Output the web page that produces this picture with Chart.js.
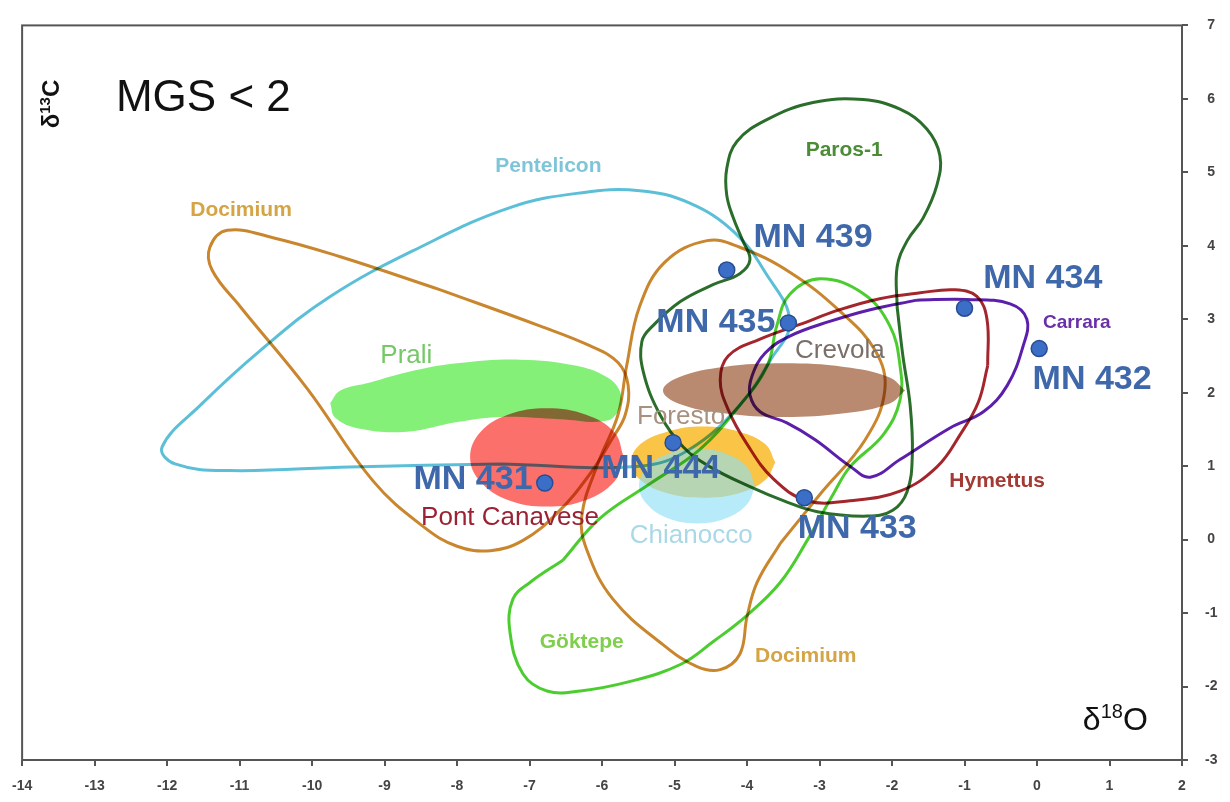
<!DOCTYPE html>
<html lang="en">
<head>
<meta charset="UTF-8" />
<title>MGS &lt; 2 – δ13C vs δ18O</title>
<script src="https://cdn.jsdelivr.net/npm/chart.js"></script>
<style>
  body { margin: 0; background: #fff; }
  .wrap { width: 1230px; height: 802px; position: relative; }
</style>
</head>
<body>
<div class="wrap"><canvas id="isoChart"></canvas></div>
<script>
// outlines of the marble fields, pairs of [δ18O, δ13C]
// (each ring starts on a straight stretch so the closing joint stays hidden)
const pentelicon = [[-7.41,1.03],[-9.48,0.99],[-11.13,0.94],[-11.89,1.03],[-12.07,1.26],[-11.54,1.83],[-10.72,2.57],[-9.75,3.31],[-8.51,3.98],[-7.27,4.52],[-6.30,4.72],[-5.48,4.75],[-4.79,4.58],[-4.17,4.18],[-3.75,3.64],[-3.41,2.97],[-3.68,2.44],[-4.10,1.83],[-4.79,1.23],[-5.48,1.00]];
const docimiumA = [[-8.23,3.40],[-6.86,2.91],[-6.17,2.64],[-5.78,2.41],[-5.64,2.10],[-5.68,1.70],[-5.85,1.39],[-6.17,0.89],[-6.62,0.36],[-7.09,-0.01],[-7.54,-0.15],[-8.00,-0.09],[-8.47,0.18],[-9.16,0.80],[-10.07,2.06],[-10.99,3.17],[-11.38,3.67],[-11.41,3.98],[-11.17,4.21],[-10.54,4.11],[-9.61,3.85]];
const docimiumB = [[-3.54,-0.05],[-3.86,-0.58],[-4.00,-1.05],[-4.10,-1.56],[-4.37,-1.77],[-4.69,-1.73],[-5.16,-1.43],[-5.85,-0.81],[-6.21,-0.14],[-6.28,0.32],[-6.06,1.03],[-5.78,1.70],[-5.66,2.37],[-5.48,3.18],[-5.13,3.78],[-4.55,4.07],[-4.10,3.98],[-3.41,3.64],[-2.72,3.11],[-2.23,2.57],[-2.10,2.03],[-2.37,1.36],[-2.99,0.62]];
const paros = [[-1.93,3.17],[-1.85,2.50],[-1.75,1.83],[-1.72,1.16],[-1.79,0.66],[-1.99,0.40],[-2.34,0.32],[-3.03,0.38],[-3.50,0.53],[-3.96,0.72],[-4.51,0.99],[-4.88,1.26],[-5.20,1.70],[-5.43,2.28],[-5.45,2.70],[-5.30,2.91],[-4.92,3.24],[-4.47,3.47],[-4.10,3.62],[-3.96,3.81],[-4.06,4.07],[-4.19,4.38],[-4.28,4.69],[-4.28,5.05],[-4.14,5.42],[-3.72,5.72],[-3.09,5.95],[-2.40,5.99],[-1.89,5.86],[-1.52,5.59],[-1.34,5.23],[-1.38,4.83],[-1.57,4.38],[-1.79,4.07],[-1.93,3.71]];
const goktepe = [[-6.54,-0.28],[-6.03,0.29],[-5.34,0.76],[-4.65,1.23],[-4.10,1.83],[-3.72,2.37],[-3.59,2.91],[-3.41,3.34],[-2.99,3.55],[-2.40,3.35],[-2.03,2.91],[-1.89,2.37],[-1.89,1.90],[-2.12,1.43],[-2.58,0.99],[-2.81,0.62],[-3.17,-0.01],[-3.54,-0.58],[-4.00,-1.03],[-4.47,-1.39],[-4.92,-1.70],[-5.61,-1.93],[-6.30,-2.06],[-6.76,-2.06],[-7.09,-1.83],[-7.27,-1.26],[-7.23,-0.81],[-6.99,-0.58]];
const hymettus = [[-0.68,2.37],[-0.81,1.87],[-1.06,1.43],[-1.38,0.99],[-1.89,0.66],[-2.58,0.53],[-3.17,0.53],[-3.64,0.83],[-4.00,1.30],[-4.26,1.77],[-4.37,2.17],[-4.26,2.50],[-3.82,2.73],[-3.27,2.93],[-2.72,3.13],[-2.17,3.28],[-1.61,3.36],[-1.13,3.40],[-0.83,3.31],[-0.69,3.00]];
const carrara = [[-1.66,3.26],[-0.97,3.27],[-0.37,3.21],[-0.14,3.00],[-0.19,2.64],[-0.41,2.10],[-0.74,1.74],[-1.20,1.52],[-1.89,1.09],[-2.30,0.85],[-2.58,1.00],[-3.06,1.36],[-3.45,1.59],[-3.82,1.74],[-3.96,1.97],[-3.93,2.23],[-3.75,2.54],[-3.41,2.77],[-2.86,2.97],[-2.30,3.13]];

// filled fields
const prali = [[-9.75,1.86],[-9.61,2.03],[-9.20,2.14],[-8.69,2.28],[-8.00,2.40],[-7.13,2.45],[-6.37,2.37],[-5.93,2.21],[-5.75,2.01],[-5.75,1.81],[-5.93,1.62],[-6.58,1.64],[-7.41,1.67],[-8.00,1.60],[-8.69,1.47],[-9.34,1.51],[-9.68,1.66]];
const pontCanavese = [[-5.70,1.12],[-5.83,1.46],[-6.22,1.70],[-6.76,1.79],[-7.30,1.70],[-7.68,1.46],[-7.82,1.12],[-7.68,0.79],[-7.30,0.54],[-6.76,0.45],[-6.22,0.54],[-5.83,0.79]];
const crevola = [[-1.82,2.03],[-2.04,2.21],[-2.66,2.35],[-3.49,2.40],[-4.32,2.35],[-4.94,2.21],[-5.16,2.03],[-4.94,1.85],[-4.32,1.72],[-3.49,1.67],[-2.66,1.72],[-2.04,1.85]];
const foresto = [[-3.61,1.05],[-3.75,1.30],[-4.11,1.47],[-4.61,1.54],[-5.10,1.47],[-5.47,1.30],[-5.60,1.05],[-5.47,0.81],[-5.10,0.63],[-4.61,0.57],[-4.11,0.63],[-3.75,0.81]];
const chianocco = [[-3.89,0.73],[-4.00,0.99],[-4.29,1.17],[-4.69,1.24],[-5.09,1.17],[-5.38,0.99],[-5.49,0.73],[-5.38,0.48],[-5.09,0.29],[-4.69,0.22],[-4.29,0.29],[-4.00,0.48]];

// samples
const sampleNames = ['MN 439', 'MN 435', 'MN 434', 'MN 432', 'MN 444', 'MN 431', 'MN 433'];
const sampleO = [-4.28, -3.43, -1.00, 0.03, -5.02, -6.79, -3.21];
const sampleC = [3.67, 2.95, 3.15, 2.60, 1.32, 0.77, 0.57];
// where the sample names sit
const sampleTagO = [-3.09, -4.43, 0.08, 0.76, -5.19, -7.78, -2.48];
const sampleTagC = [4.11, 2.95, 3.55, 2.18, 0.96, 0.81, 0.15];

const xTicks = [-14, -13, -12, -11, -10, -9, -8, -7, -6, -5, -4, -3, -2, -1, 0, 1, 2];
const yTicks = [-3, -2, -1, 0, 1, 2, 3, 4, 5, 6, 7];

// field names: text, δ18O, δ13C, colour, font
const fieldNames = [
  ['Pentelicon', -6.74, 5.08, '#7fc5da', 'bold 21px'],
  ['Docimium', -10.98, 4.49, '#d5a444', 'bold 21px'],
  ['Paros-1', -2.66, 5.30, '#4b8c37', 'bold 21px'],
  ['Prali', -8.70, 2.50, '#74c866', '26px'],
  ['Crevola', -2.72, 2.57, '#7a6f68', '26px'],
  ['Foresto', -4.91, 1.67, '#a8917f', '26px'],
  ['Chianocco', -4.77, 0.05, '#a9d8e6', '26px'],
  ['Pont Canavese', -7.27, 0.29, '#9a2234', '26px'],
  ['Göktepe', -6.28, -1.39, '#80cf4c', 'bold 21px'],
  ['Docimium', -3.19, -1.59, '#d5a444', 'bold 21px'],
  ['Hymettus', -0.55, 0.79, '#a33a34', 'bold 21px'],
  ['Carrara', 0.55, 2.95, '#6b30a8', 'bold 19px']
];

const FAMILY = '"Liberation Sans", Arial, sans-serif';
const closed = a => a.concat([a[0]]).map(p => ({ x: p[0], y: p[1] }));

function outline(label, arr, color) {
  return {
    label, data: closed(arr), showLine: true, fill: false, blend: 'multiply',
    borderColor: color, borderWidth: 3, pointRadius: 0, tension: 0.4, order: 1
  };
}
function area(label, arr, color, blend, order) {
  return {
    label, data: closed(arr), showLine: true, fill: 'shape', blend,
    backgroundColor: color, borderColor: 'rgba(0,0,0,0)', borderWidth: 1, pointRadius: 0, tension: 0.4, order
  };
}

function isoLabel(ctx, x, y, iso, el, size, weight, angle) {
  ctx.save();
  ctx.translate(x, y);
  ctx.rotate(angle);
  const big = `${weight} ${size}px ${FAMILY}`;
  const small = `${weight} ${Math.round(size * 0.62)}px ${FAMILY}`;
  ctx.font = big;
  const wd = ctx.measureText('δ').width, we = ctx.measureText(el).width;
  ctx.font = small;
  const wi = ctx.measureText(iso).width;
  let cx = -(wd + wi + we) / 2;
  const base = size * 0.36;
  ctx.fillStyle = '#111';
  ctx.textAlign = 'left';
  ctx.textBaseline = 'alphabetic';
  ctx.font = big; ctx.fillText('δ', cx, base); cx += wd;
  ctx.font = small; ctx.fillText(iso, cx, base - size * 0.36); cx += wi;
  ctx.font = big; ctx.fillText(el, cx, base);
  ctx.restore();
}

// blend mode of the dataset that will be drawn after the given position
function blendAt(chart, metas, pos) {
  const m = metas[pos];
  return m ? (chart.data.datasets[m.index].blend || 'source-over') : 'source-over';
}

const paperPlugin = {
  id: 'paper',
  beforeDraw(chart) {
    const { ctx, width, height } = chart;
    ctx.save();
    ctx.fillStyle = '#fff';
    ctx.fillRect(0, 0, width, height);
    ctx.restore();
  },
  beforeDatasetsDraw(chart) {
    const metas = chart.getSortedVisibleDatasetMetas();
    chart.ctx.save();
    chart.ctx.globalCompositeOperation = blendAt(chart, metas, metas.length - 1);
  },
  afterDatasetDraw(chart, args) {
    // datasets are painted from the end of the sorted list to its start
    const metas = chart.getSortedVisibleDatasetMetas();
    const pos = metas.indexOf(args.meta);
    chart.ctx.globalCompositeOperation = blendAt(chart, metas, pos - 1);
  },
  afterDatasetsDraw(chart) {
    const ctx = chart.ctx;
    ctx.restore();
    const xs = chart.scales.x, ys = chart.scales.y;
    ctx.save();
    ctx.textAlign = 'center';
    ctx.textBaseline = 'middle';
    fieldNames.forEach(([t, o, c, col, f]) => {
      ctx.font = `${f} ${FAMILY}`;
      ctx.fillStyle = col;
      ctx.fillText(t, xs.getPixelForValue(o), ys.getPixelForValue(c));
    });
    ctx.font = `bold 34px ${FAMILY}`;
    ctx.fillStyle = '#3f68ab';
    sampleNames.forEach((n, i) => {
      ctx.fillText(n, xs.getPixelForValue(sampleTagO[i]), ys.getPixelForValue(sampleTagC[i]));
    });
    ctx.font = `44px ${FAMILY}`;
    ctx.fillStyle = '#111';
    ctx.fillText('MGS < 2', xs.getPixelForValue(-11.5), ys.getPixelForValue(6.0));
    ctx.restore();
    isoLabel(ctx, xs.getPixelForValue(-13.61), ys.getPixelForValue(5.93), '13', 'C', 24, 'bold', -Math.PI / 2);
    isoLabel(ctx, xs.getPixelForValue(1.08), ys.getPixelForValue(-2.43), '18', 'O', 32, 'normal', 0);
  },
  afterDraw(chart) {
    const { ctx, chartArea: a } = chart;
    ctx.save();
    ctx.strokeStyle = '#555';
    ctx.lineWidth = 2;
    ctx.strokeRect(a.left, a.top, a.right - a.left, a.bottom - a.top);
    ctx.restore();
  }
};

new Chart(document.getElementById('isoChart'), {
  type: 'scatter',
  data: {
    datasets: [
      {
        label: 'Samples', blend: 'source-over',
        data: sampleO.map((o, i) => ({ x: o, y: sampleC[i] })),
        pointRadius: 8, pointBackgroundColor: '#3b6fc7', pointBorderColor: '#2a4d92', pointBorderWidth: 1.5,
        order: 0
      },
      outline('Pentelicon', pentelicon, '#5cbfd8'),
      outline('Docimium', docimiumA, '#c9862d'),
      outline('Docimium', docimiumB, '#c9862d'),
      outline('Göktepe', goktepe, '#4ccd2f'),
      outline('Paros-1', paros, '#2b6d2b'),
      outline('Hymettus', hymettus, '#a3262c'),
      outline('Carrara', carrara, '#5b1fab'),
      area('Chianocco', chianocco, 'rgba(140,222,245,0.62)', 'source-over', 2),
      area('Prali', prali, 'rgb(132,240,120)', 'multiply', 3),
      area('Pont Canavese', pontCanavese, 'rgb(252,112,108)', 'multiply', 3),
      area('Crevola', crevola, 'rgb(185,138,112)', 'multiply', 3),
      area('Foresto', foresto, 'rgb(250,196,70)', 'multiply', 3)
    ]
  },
  options: {
    responsive: true,
    maintainAspectRatio: false,
    animation: false,
    layout: { padding: { left: 22, top: 15, right: 0, bottom: 0 } },
    plugins: { legend: { display: false }, tooltip: { enabled: false } },
    scales: {
      x: {
        type: 'linear', position: 'bottom', min: -14, max: 2,
        afterBuildTicks: s => { s.ticks = xTicks.map(v => ({ value: v })); },
        afterFit: s => { s.height = 42; },
        grid: { drawOnChartArea: false, color: '#555', lineWidth: 2, tickLength: 6 },
        border: { display: false },
        ticks: { color: '#444', padding: 12, maxRotation: 0, font: { size: 14, weight: 'bold', family: FAMILY } }
      },
      y: {
        type: 'linear', position: 'right', min: -3, max: 7,
        afterBuildTicks: s => { s.ticks = yTicks.map(v => ({ value: v })); },
        afterFit: s => { s.width = 48; },
        grid: { drawOnChartArea: false, color: '#555', lineWidth: 2, tickLength: 6 },
        border: { display: false },
        ticks: { color: '#444', padding: 17, crossAlign: 'center', font: { size: 14, weight: 'bold', family: FAMILY } }
      }
    }
  },
  plugins: [paperPlugin]
});
</script>
</body>
</html>
